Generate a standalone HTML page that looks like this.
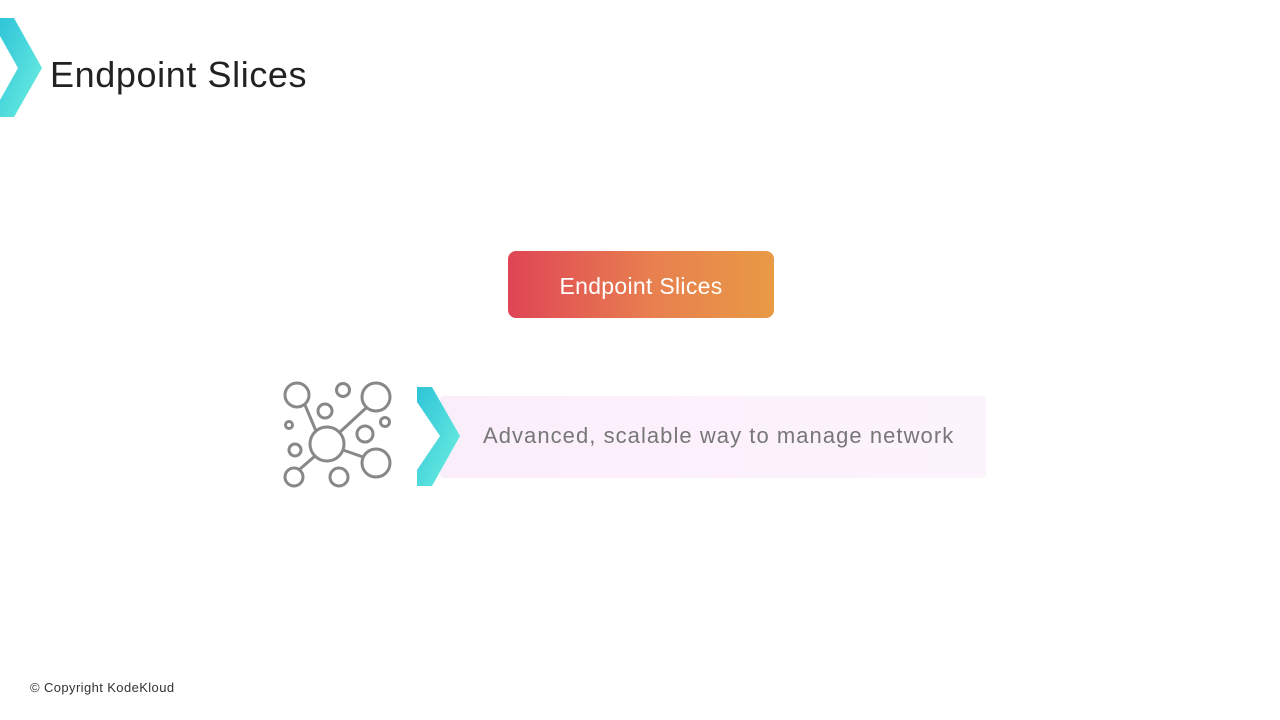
<!DOCTYPE html>
<html><head><meta charset="utf-8"><style>
html,body{margin:0;padding:0;width:1280px;height:720px;background:#fff;overflow:hidden;font-family:"Liberation Sans",sans-serif;position:relative}
.title{position:absolute;left:50px;top:54px;font-size:36px;letter-spacing:0.6px;color:#222}
.btn{position:absolute;left:508px;top:251px;width:266px;height:67px;border-radius:8px;background:linear-gradient(90deg,#df4555,#e8804f 55%,#e89a45);color:#fff;font-size:23px;letter-spacing:0.3px;text-align:center;line-height:70px}
.bar{position:absolute;left:440px;top:396px;width:546px;height:82px;background:linear-gradient(90deg,#fbeefb,#fcf4fc);border-radius:4px}
.bar span{position:absolute;left:43px;top:27px;font-size:22px;letter-spacing:1.05px;color:#777}
.copy{position:absolute;left:30px;top:680px;font-size:13px;letter-spacing:0.4px;color:#333}
</style></head><body>
<svg width="1280" height="720" style="position:absolute;left:0;top:0">
<defs><linearGradient id="g" x1="0" y1="0" x2="1" y2="1"><stop offset="0" stop-color="#2ec4d8"/><stop offset="1" stop-color="#6ff0e0"/></linearGradient></defs>
<polygon points="0,18 14,18 42,68 14,117 0,117 0,100 18,68 0,36" fill="url(#g)"/>
</svg>
<div class="title">Endpoint Slices</div>
<div class="btn">Endpoint Slices</div>
<div class="bar"><span>Advanced, scalable way to manage network</span></div>
<svg width="1280" height="720" style="position:absolute;left:0;top:0">
<polygon points="417,387 432,387 460,436 432,486 417,486 417,470 440,436 417,402" fill="url(#g)"/>
<g fill="none" stroke="#888" stroke-width="3">
<line x1="305" y1="405" x2="316" y2="431"/>
<line x1="366" y1="408" x2="340" y2="432"/>
<line x1="300" y1="469" x2="315" y2="456"/>
<line x1="343" y1="450" x2="363" y2="457"/>
<circle cx="297" cy="395" r="12"/>
<circle cx="343" cy="390" r="6.5"/>
<circle cx="376" cy="397" r="14"/>
<circle cx="325" cy="411" r="7"/>
<circle cx="289" cy="425" r="3.5"/>
<circle cx="385" cy="422" r="4.5"/>
<circle cx="327" cy="444" r="17"/>
<circle cx="365" cy="434" r="8"/>
<circle cx="295" cy="450" r="6"/>
<circle cx="376" cy="463" r="14"/>
<circle cx="294" cy="477" r="9"/>
<circle cx="339" cy="477" r="9"/>
</g>
</svg>
<div class="copy">© Copyright KodeKloud</div>
</body></html>
